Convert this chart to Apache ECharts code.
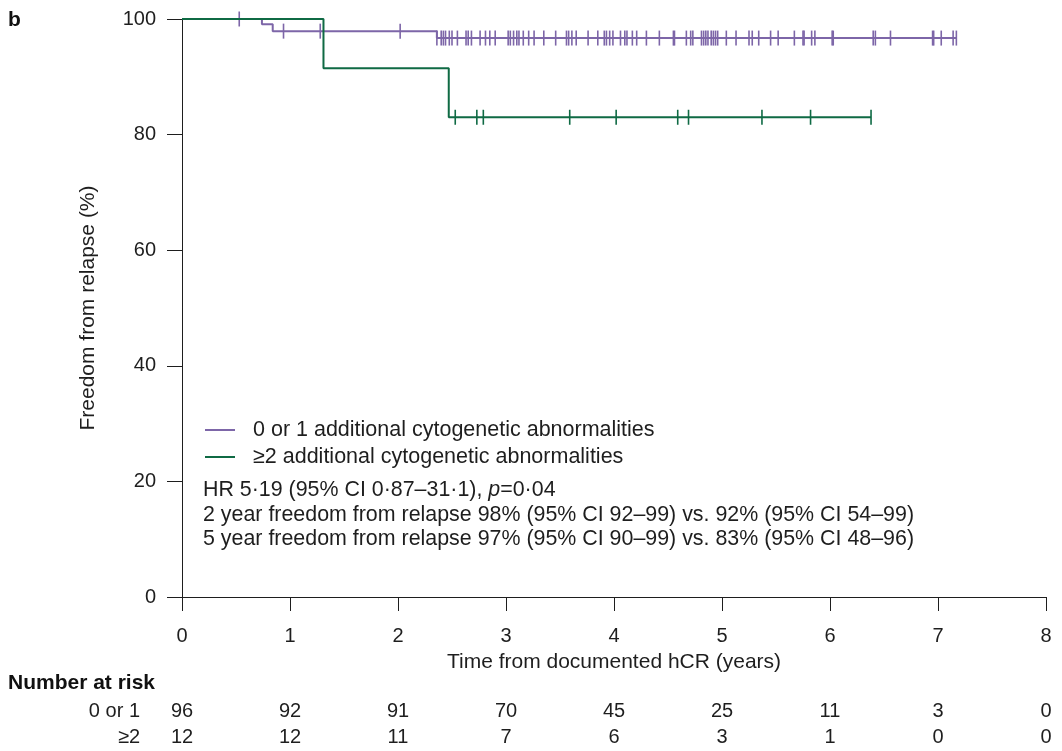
<!DOCTYPE html>
<html>
<head>
<meta charset="utf-8">
<script src="https://cdn.jsdelivr.net/npm/echarts@6/dist/echarts.min.js"></script>
<style>
  html, body { margin: 0; padding: 0; background: #fff; }
  #main { width: 1062px; height: 751px; }
</style>
</head>
<body>
<div id="main"></div>
<script>
// 0 or 1 additional abnormalities: step points (time in years, % free from relapse)
var lowTimes = [0, 0.74, 0.84, 2.36, 7.17];
var lowSurv = [100, 99.1, 97.9, 96.7, 96.7];
// censor marks
var lowCensor = [0.53, 0.94, 1.28, 2.02, 2.36, 2.40, 2.42, 2.44, 2.475, 2.50, 2.55, 2.63, 2.65, 2.68,
  2.76, 2.81, 2.85, 2.90, 3.02, 3.04, 3.07, 3.10, 3.12, 3.16, 3.21, 3.26, 3.35, 3.46, 3.56, 3.58,
  3.61, 3.65, 3.76, 3.85, 3.91, 3.93, 3.96, 3.99, 4.06, 4.10, 4.12, 4.17, 4.21, 4.30, 4.42, 4.55,
  4.56, 4.67, 4.71, 4.73, 4.81, 4.83, 4.85, 4.87, 4.90, 4.92, 4.94, 4.96, 5.04, 5.13, 5.25, 5.28,
  5.34, 5.45, 5.52, 5.67, 5.75, 5.76, 5.83, 5.86, 6.02, 6.03, 6.40, 6.42, 6.56, 6.95, 6.96, 7.03,
  7.14, 7.17];

// >=2 additional abnormalities
var highTimes = [0, 1.31, 2.47, 6.38];
var highSurv = [100, 91.5, 83.0, 83.0];
var highCensor = [2.53, 2.73, 2.79, 3.59, 4.02, 4.59, 4.69, 5.37, 5.82, 6.38];

// number at risk
var riskTimes = [0, 1, 2, 3, 4, 5, 6, 7, 8];
var riskRows = ['0 or 1', '≥2'];
var riskLow = [96, 92, 91, 70, 45, 25, 11, 3, 0];
var riskHigh = [12, 12, 11, 7, 6, 3, 1, 0, 0];

var seriesNames = ['0 or 1 additional cytogenetic abnormalities', '≥2 additional cytogenetic abnormalities'];
var purple = '#7d66a8';
var green = '#0f6a44';
var ink = '#1e1e1e';
var font = '"Liberation Sans", Arial, sans-serif';

function stepPoints(t, s) {
  return t.map(function (x, i) { return [x, s[i]]; });
}
// survival value at time x (lookup on the step curve)
function survAt(t, s, x) {
  var v = s[0];
  for (var i = 0; i < t.length; i++) { if (t[i] <= x) v = s[i]; }
  return v;
}
function censorPoints(t, s, c) {
  return c.map(function (x) { return [x, survAt(t, s, x)]; });
}
function riskPoints(vals, row) {
  return vals.map(function (v, i) { return [riskTimes[i], row, v]; });
}

var chart = echarts.init(document.getElementById('main'));
chart.setOption({
  animation: false,
  textStyle: { fontFamily: font },
  grid: [
    { left: 182, right: 16, top: 19, bottom: 154 },
    { left: 182, right: 16, top: 698, height: 54 }
  ],
  xAxis: [
    {
      type: 'value', gridIndex: 0, min: 0, max: 8, interval: 1,
      name: 'Time from documented hCR (years)',
      nameLocation: 'middle', nameGap: 55,
      nameTextStyle: { fontSize: 21, color: ink },
      axisLine: { lineStyle: { color: ink, width: 1 } },
      axisTick: { show: true, length: 14, lineStyle: { color: ink } },
      axisLabel: { fontSize: 20, color: ink, margin: 29 },
      splitLine: { show: false }
    },
    {
      type: 'value', gridIndex: 1, min: 0, max: 8, show: false
    }
  ],
  yAxis: [
    {
      type: 'value', gridIndex: 0, min: 0, max: 100, interval: 20,
      name: 'Freedom from relapse (%)',
      nameLocation: 'middle', nameGap: 83, nameRotate: 90,
      nameTextStyle: { fontSize: 21, color: ink },
      axisLine: { show: true, lineStyle: { color: ink, width: 1 } },
      axisTick: { show: true, length: 15, lineStyle: { color: ink } },
      axisLabel: { fontSize: 20, color: ink, margin: 26 },
      splitLine: { show: false }
    },
    {
      type: 'category', gridIndex: 1, data: riskRows, inverse: true,
      axisLine: { show: false }, axisTick: { show: false },
      axisLabel: { fontSize: 20, color: ink, margin: 42 }
    }
  ],
  legend: {
    orient: 'vertical', left: 200, top: 414, itemGap: 5,
    itemWidth: 30, itemHeight: 2,
    data: [
      { name: seriesNames[0], icon: 'rect' },
      { name: seriesNames[1], icon: 'rect' }
    ],
    textStyle: { fontSize: 21.5, color: ink, padding: [0, 0, 0, 13] }
  },
  graphic: [
    {
      type: 'text', left: 8, top: 10,
      style: { text: 'b', font: 'bold 21px ' + font, fill: '#111' }
    },
    {
      type: 'text', left: 8, top: 673,
      style: { text: 'Number at risk', font: 'bold 21px ' + font, fill: '#111' }
    },
    {
      type: 'text', left: 203, top: 480,
      style: {
        text: '{n|HR 5·19 (95% CI 0·87–31·1), }{i|p}{n|=0·04}\n' +
          '{n|2 year freedom from relapse 98% (95% CI 92–99) vs. 92% (95% CI 54–99)}\n' +
          '{n|5 year freedom from relapse 97% (95% CI 90–99) vs. 83% (95% CI 48–96)}',
        rich: {
          n: { fontSize: 21.4, fontFamily: font, fill: ink, lineHeight: 24.5 },
          i: { fontSize: 21.4, fontFamily: font, fontStyle: 'italic', fill: ink, lineHeight: 24.5 }
        }
      }
    }
  ],
  series: [
    {
      name: seriesNames[0], type: 'line', step: 'end', clip: false,
      xAxisIndex: 0, yAxisIndex: 0,
      data: stepPoints(lowTimes, lowSurv), showSymbol: false,
      lineStyle: { color: purple, width: 2 }, itemStyle: { color: purple }, z: 3
    },
    {
      name: seriesNames[1], type: 'line', step: 'end', clip: false,
      xAxisIndex: 0, yAxisIndex: 0,
      data: stepPoints(highTimes, highSurv), showSymbol: false,
      lineStyle: { color: green, width: 2 }, itemStyle: { color: green }, z: 4
    },
    {
      name: 'lowCensor', type: 'scatter', clip: false,
      xAxisIndex: 0, yAxisIndex: 0,
      data: censorPoints(lowTimes, lowSurv, lowCensor),
      symbol: 'rect', symbolSize: [1.6, 15], itemStyle: { color: purple, opacity: 1 }, z: 3
    },
    {
      name: 'highCensor', type: 'scatter', clip: false,
      xAxisIndex: 0, yAxisIndex: 0,
      data: censorPoints(highTimes, highSurv, highCensor),
      symbol: 'rect', symbolSize: [1.6, 15], itemStyle: { color: green, opacity: 1 }, z: 4
    },
    {
      name: 'riskLow', type: 'scatter', xAxisIndex: 1, yAxisIndex: 1,
      data: riskPoints(riskLow, riskRows[0]), symbolSize: 0,
      itemStyle: { opacity: 1 },
      label: { show: true, position: 'inside', fontSize: 20, color: ink, opacity: 1,
        formatter: function (p) { return p.value[2]; } }
    },
    {
      name: 'riskHigh', type: 'scatter', xAxisIndex: 1, yAxisIndex: 1,
      data: riskPoints(riskHigh, riskRows[1]), symbolSize: 0,
      itemStyle: { opacity: 1 },
      label: { show: true, position: 'inside', fontSize: 20, color: ink, opacity: 1,
        formatter: function (p) { return p.value[2]; } }
    }
  ]
});
</script>
</body>
</html>
